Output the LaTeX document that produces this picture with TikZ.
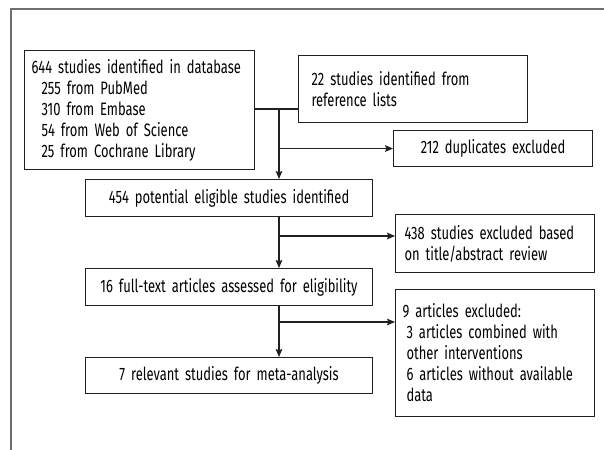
\documentclass[tikz,border=0pt]{standalone}
\usepackage{fontspec}
\setmainfont{Fira Sans}[FakeStretch=0.72]
\usetikzlibrary{arrows.meta, positioning, calc}
\definecolor{mydark}{RGB}{35,31,32}
\definecolor{myframe}{RGB}{110,110,110}
\newcommand{\flowfont}{\fontsize{13.5}{15.75}\selectfont}
\tikzset{
  lbox/.style={rectangle, draw=mydark, anchor=north west, align=left,
    inner xsep=5.25pt, inner ysep=0pt, font=\flowfont, line width=0.8pt},
  cbox/.style={rectangle, draw=mydark, anchor=north west, align=center,
    inner xsep=0pt, inner ysep=0pt, font=\flowfont, line width=0.8pt,
    text width=215.25pt, minimum height=27.75pt},
  arrow/.style={-{Stealth[length=6pt, width=5pt, inset=1pt]}, line width=0.8pt, color=mydark},
  line/.style={line width=0.8pt, color=mydark}
}
\begin{document}
\begin{tikzpicture}[x=0.75pt, y=-0.75pt]
  \useasboundingbox (0,0) rectangle (604,450);
  \draw[myframe, line width=0.9pt] (11,450) -- (11,9) -- (604,9);

  \node[lbox, text width=162pt, minimum height=89.25pt] (db) at (24,50)
    {644 studies identified in database\\
     \hspace*{7.5pt}255 from PubMed\\
     \hspace*{7.5pt}310 from Embase\\
     \hspace*{7.5pt}54 from Web of Science\\
     \hspace*{7.5pt}25 from Cochrane Library};
  \node[lbox, inner xsep=9.75pt, text width=152.25pt, minimum height=50.25pt] (ref) at (298,55)
    {22 studies identified from\\reference lists};
  \node[lbox, align=center, inner xsep=0pt, text width=149.25pt, minimum height=27pt] (dup) at (393,130)
    {212 duplicates excluded};
  \node[cbox] (pot) at (85,179) {454 potential eligible studies identified};
  \node[lbox, inner xsep=6.75pt, text width=135.75pt, minimum height=43.5pt] (title) at (395,214)
    {438 studies excluded based\\on title/abstract review};
  \node[cbox] (full) at (85,268) {16 full-text articles assessed for eligibility};
  \node[lbox, text width=138.75pt, minimum height=95.25pt] (excl) at (395,289)
    {9 articles excluded:\\
     \hspace*{3pt}3 articles combined with\\
     \hspace*{3pt}other interventions\\
     \hspace*{3pt}6 articles without available\\
     \hspace*{3pt}data};
  \node[cbox, minimum height=27pt] (rel) at (85,357) {7 relevant studies for meta-analysis};

  \coordinate (j1) at (279,109);
  \coordinate (j2) at (279,236);
  \coordinate (j3) at (279,322);

  \draw[line] (db.east |- j1) -- (j1 -| ref.west);
  \draw[arrow] (j1) -- (j1 |- pot.north);
  \draw[arrow] (j1 |- dup.west) -- (dup.west);
  \draw[arrow] (j1 |- pot.south) -- (j1 |- full.north);
  \draw[arrow] (j2) -- (j2 -| title.west);
  \draw[arrow] (j1 |- full.south) -- (j1 |- rel.north);
  \draw[arrow] (j3) -- (j3 -| excl.west);
\end{tikzpicture}
\end{document}
